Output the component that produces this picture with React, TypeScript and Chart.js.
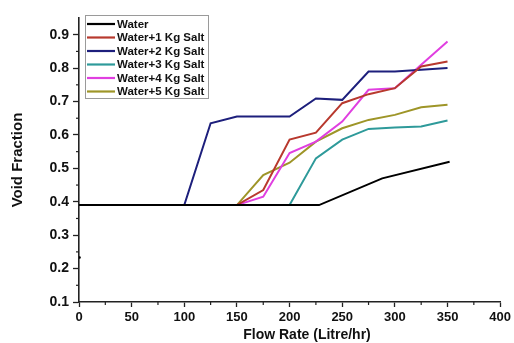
import React, { useEffect, useRef } from "react";
import { Chart, registerables } from "chart.js";

Chart.register(...registerables);

const flowRates = [0, 50, 100, 125, 150, 175, 200, 225, 250, 275, 300, 325, 350];
const waterFlow = [0, 50, 100, 150, 200, 228, 288, 352];
const water = [0.39, 0.39, 0.39, 0.39, 0.39, 0.39, 0.47, 0.52];
const salt1 = [0.39, 0.39, 0.39, 0.39, 0.39, 0.435, 0.586, 0.607, 0.695, 0.722, 0.74, 0.805, 0.82];
const salt2 = [0.39, 0.39, 0.39, 0.635, 0.655, 0.655, 0.655, 0.709, 0.705, 0.79, 0.79, 0.795, 0.8];
const salt3 = [0.39, 0.39, 0.39, 0.39, 0.39, 0.39, 0.39, 0.53, 0.586, 0.618, 0.622, 0.625, 0.643];
const salt4 = [0.39, 0.39, 0.39, 0.39, 0.39, 0.415, 0.546, 0.58, 0.64, 0.735, 0.74, 0.81, 0.88];
const salt5 = [0.39, 0.39, 0.39, 0.39, 0.39, 0.48, 0.517, 0.58, 0.62, 0.645, 0.66, 0.683, 0.69];
const strayPoint = [{ x: 0.5, y: 0.233 }];

const seriesLabels = [
  "Water",
  "Water+1 Kg Salt",
  "Water+2 Kg Salt",
  "Water+3 Kg Salt",
  "Water+4 Kg Salt",
  "Water+5 Kg Salt",
];
const seriesColors = ["#000000", "#b8392e", "#1d1f7c", "#2e9a9a", "#e03fe0", "#9e9528"];

const xTicksMinor = [25, 75, 125, 175, 225, 275, 325, 375];
const yTicksMinor = [0.15, 0.25, 0.35, 0.45, 0.55, 0.65, 0.75, 0.85];

const FONT = '"Liberation Sans", Arial, sans-serif';

export default function App() {
  const ref = useRef<HTMLCanvasElement | null>(null);

  useEffect(() => {
    document.body.style.margin = "0";
    const canvas = ref.current;
    if (!canvas) return;

    const toPts = (xs: number[], ys: number[]) => ys.map((y, i) => ({ x: xs[i], y }));
    const allSeries = [
      toPts(waterFlow, water),
      toPts(flowRates, salt1),
      toPts(flowRates, salt2),
      toPts(flowRates, salt3),
      toPts(flowRates, salt4),
      toPts(flowRates, salt5),
    ];

    const datasets: any[] = allSeries.map((pts, i) => ({
      label: seriesLabels[i],
      data: pts,
      borderColor: seriesColors[i],
      backgroundColor: seriesColors[i],
      borderWidth: 2,
      pointRadius: 0,
      tension: 0,
      fill: false,
      order: i,
    }));
    datasets.push({
      label: "",
      data: strayPoint,
      showLine: false,
      pointRadius: 1.3,
      borderWidth: 0,
      backgroundColor: "#000",
      borderColor: "#000",
      order: 10,
    });

    const extras = {
      id: "extras",
      afterDraw(chart: any) {
        const ctx = chart.ctx;
        const xs = chart.scales.x;
        const ys = chart.scales.y;
        const area = chart.chartArea;
        ctx.save();
        // minor ticks
        ctx.strokeStyle = "#222";
        ctx.lineWidth = 1.2;
        xTicksMinor.forEach((v) => {
          const px = xs.getPixelForValue(v);
          ctx.beginPath();
          ctx.moveTo(px, area.bottom);
          ctx.lineTo(px, area.bottom + 3);
          ctx.stroke();
        });
        yTicksMinor.forEach((v) => {
          const py = ys.getPixelForValue(v);
          ctx.beginPath();
          ctx.moveTo(area.left, py);
          ctx.lineTo(area.left - 3, py);
          ctx.stroke();
        });
        // legend
        const bx = area.left + 6;
        const by = 15;
        const bw = 123;
        const bh = 83;
        ctx.fillStyle = "#fff";
        ctx.fillRect(bx, by, bw, bh);
        ctx.strokeStyle = "#9a9a9a";
        ctx.lineWidth = 1;
        ctx.strokeRect(bx + 0.5, by + 0.5, bw, bh);
        ctx.font = "bold 11.5px " + FONT;
        ctx.textBaseline = "middle";
        ctx.textAlign = "left";
        seriesLabels.forEach((lab, i) => {
          const y = by + 9 + i * 13.5;
          ctx.strokeStyle = seriesColors[i];
          ctx.lineWidth = 2.2;
          ctx.beginPath();
          ctx.moveTo(bx + 2, y);
          ctx.lineTo(bx + 30, y);
          ctx.stroke();
          ctx.fillStyle = "#111";
          ctx.fillText(lab, bx + 32, y + 0.5);
        });
        // x title
        ctx.font = "bold 14px " + FONT;
        ctx.textAlign = "center";
        ctx.fillStyle = "#111";
        ctx.fillText("Flow Rate (Litre/hr)", 307, 335);
        ctx.restore();
      },
    };

    const chart = new Chart(canvas, {
      type: "line",
      data: { datasets },
      options: {
        animation: false,
        responsive: false,
        maintainAspectRatio: false,
        layout: { padding: { top: 18, right: 11, left: 0, bottom: 0 } },
        plugins: { legend: { display: false }, tooltip: { enabled: false } },
        scales: {
          x: {
            type: "linear",
            min: 0,
            max: 400,
            afterFit: (s: any) => {
              s.height = 41;
            },
            ticks: {
              stepSize: 50,
              padding: 3,
              color: "#111",
              font: { family: FONT, size: 13, weight: "bold" },
              maxRotation: 0,
            },
            grid: {
              display: true,
              drawOnChartArea: false,
              drawTicks: true,
              tickLength: 5,
              tickColor: "#222",
              tickWidth: 1.3,
            },
            border: { display: true, color: "#222", width: 1.6 },
            title: { display: false },
          },
          y: {
            type: "linear",
            min: 0.1,
            max: 0.95,
            afterFit: (s: any) => {
              s.width = 79;
            },
            ticks: {
              stepSize: 0.1,
              includeBounds: false,
              padding: 4,
              color: "#111",
              font: { family: FONT, size: 14, weight: "bold" },
              callback: (v: any) => Number(v).toFixed(1),
            },
            grid: {
              display: true,
              drawOnChartArea: false,
              drawTicks: true,
              tickLength: 6,
              tickColor: "#222",
              tickWidth: 1.3,
            },
            border: { display: true, color: "#222", width: 1.6 },
            title: {
              display: true,
              text: "Void Fraction",
              color: "#111",
              font: { family: FONT, size: 15, weight: "bold" },
              padding: { top: 9, bottom: 0 },
            },
          },
        },
      },
      plugins: [extras],
    } as any);

    return () => chart.destroy();
  }, []);

  return (
    <div style={{ width: 514, height: 343, background: "#fff" }}>
      <canvas ref={ref} width={514} height={343} />
    </div>
  );
}
